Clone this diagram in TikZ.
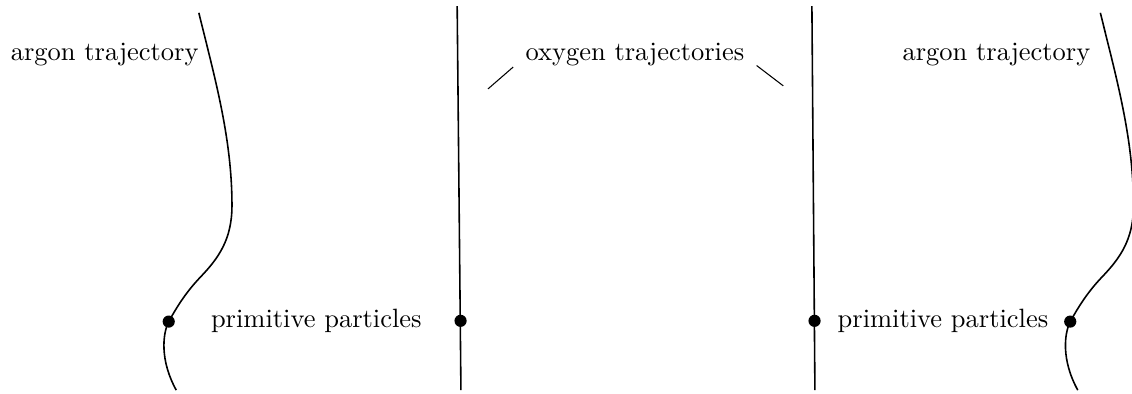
\documentclass[tikz,border=0pt]{standalone}
\usepackage{amsmath,amssymb}
\usepackage{tikz}
\usetikzlibrary{calc}

\begin{document}
\begin{tikzpicture}[
    traj/.style={semithick},
    lead/.style={thin},
    bead/.style={circle, fill=black, inner sep=0pt, minimum size=4.6pt},
    lbl/.style={anchor=base}
  ]
    \useasboundingbox (0,0) rectangle (15.03,5.23);

    % Argon trajectories (same curve, shifted to the right)
    \foreach \s/\n in {0/l, 11.97/r} {
        \begin{scope}[xshift=\s cm]
            \draw[traj] (2.64,5.06) .. controls (2.85,4.2) and (3.08,3.4) .. (3.08,2.5)
                .. controls (3.08,2.05) and (2.9,1.8) .. (2.66,1.55)
                .. controls (2.45,1.33) and (2.33,1.12) .. (2.24,0.96)
                .. controls (2.16,0.8) and (2.12,0.45) .. (2.34,0.05);
            \node[bead] (ar\n) at (2.24,0.96) {};
        \end{scope}
    }

    % Oxygen trajectories
    \draw[traj] (6.07,5.15) -- (6.12,0.05);
    \draw[traj] (10.78,5.15) -- (10.82,0.05);
    \node[bead] (oxl) at (6.115,0.97) {};
    \node[bead] (oxr) at (10.815,0.97) {};

    % Labels
    \node[lbl] (argl) at (1.39,4.42) {argon trajectory};
    \node[lbl] (argr) at (13.23,4.42) {argon trajectory};
    \node[lbl] (oxy) at (8.43,4.42) {oxygen trajectories};
    \node[lbl] (priml) at (4.20,0.88) {primitive particles};
    \node[lbl] (primr) at (12.52,0.88) {primitive particles};

    % Leader lines to the oxygen trajectories
    \coordinate (oxyL) at (6.48,4.05);
    \coordinate (oxyR) at (10.40,4.09);
    \draw[lead] ($(oxy.base west)+(-0.04,-0.08)$) -- (oxyL);
    \draw[lead] ($(oxy.base east)+(0.04,-0.06)$) -- (oxyR);
\end{tikzpicture}
\end{document}
